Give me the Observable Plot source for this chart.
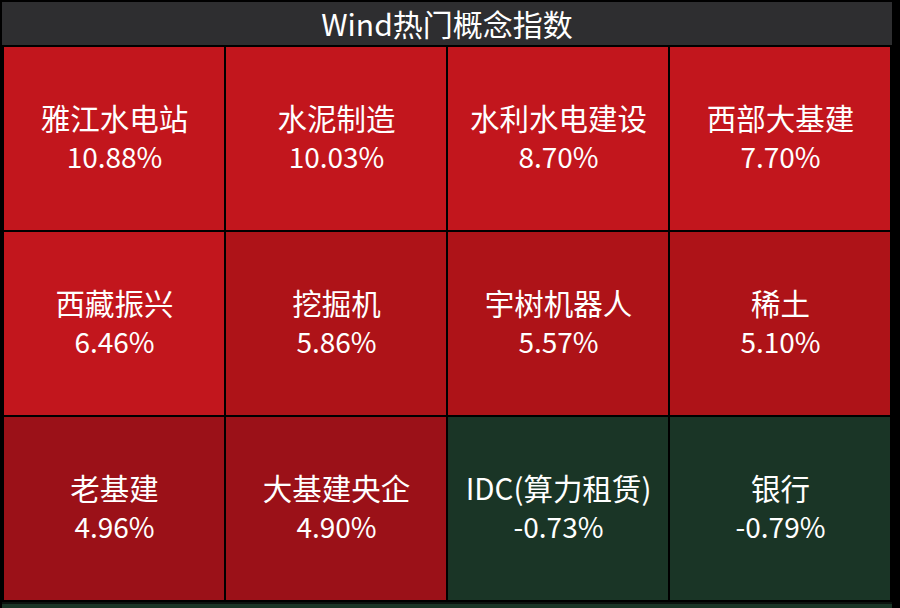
<!DOCTYPE html>
<html>
<head>
<meta charset="utf-8">
<script src="https://cdn.jsdelivr.net/npm/d3@7"></script>
<script src="https://cdn.jsdelivr.net/npm/@observablehq/plot@0.6"></script>
<style>
  html, body { margin: 0; padding: 0; background: #000; width: 900px; height: 608px; overflow: hidden; }
  #wrap { position: absolute; left: 2px; top: 2px; width: 890px; }
  #title { height: 43px; background: #2e2e30; color: #fff; font-family: "Noto Sans CJK SC", "Noto Sans", sans-serif;
           font-size: 30px; line-height: 43px; text-align: center; margin-bottom: 0; }
  #chart svg { display: block; }
  #strip { height: 8px; background: #1a3526; border-top: 2px solid #0b120e; }
</style>
</head>
<body>
<div id="wrap">
  <div id="title">Wind热门概念指数</div>
  <div id="chart"></div>
  <div id="strip"></div>
</div>
<script>
const titleText = "Wind热门概念指数";
const names = ["雅江水电站", "水泥制造", "水利水电建设", "西部大基建",
               "西藏振兴", "挖掘机", "宇树机器人", "稀土",
               "老基建", "大基建央企", "IDC(算力租赁)", "银行"];
const values = [10.88, 10.03, 8.70, 7.70,
                6.46, 5.86, 5.57, 5.10,
                4.96, 4.90, -0.73, -0.79];
const nCols = 4;

const data = names.map((name, i) => ({
  name,
  value: values[i],
  label: values[i].toFixed(2) + "%",
  col: i % nCols,
  row: Math.floor(i / nCols)
}));

const font = "'Noto Sans CJK SC', 'Noto Sans', sans-serif";

const chart = Plot.plot({
  width: 890,
  height: 557,
  margin: 0,
  style: { background: "#000", fontFamily: font },
  x: { type: "band", domain: d3.range(nCols), padding: 0, axis: null },
  y: { type: "band", domain: d3.range(3), padding: 0, axis: null },
  color: { type: "threshold", domain: [0, 5, 6], range: ["#1a3526", "#9b1118", "#ae1318", "#c2161d"] },
  marks: [
    Plot.cell(data, { x: "col", y: "row", fill: "value", inset: 1 }),
    Plot.text(data, { x: "col", y: "row", text: "name", dy: -18, fill: "#fff", fontSize: 29.5, fontFamily: font }),
    Plot.text(data, { x: "col", y: "row", text: "label", dy: 20, fill: "#fff", fontSize: 28, fontFamily: font })
  ]
});
document.getElementById("chart").appendChild(chart);
</script>
</body>
</html>
